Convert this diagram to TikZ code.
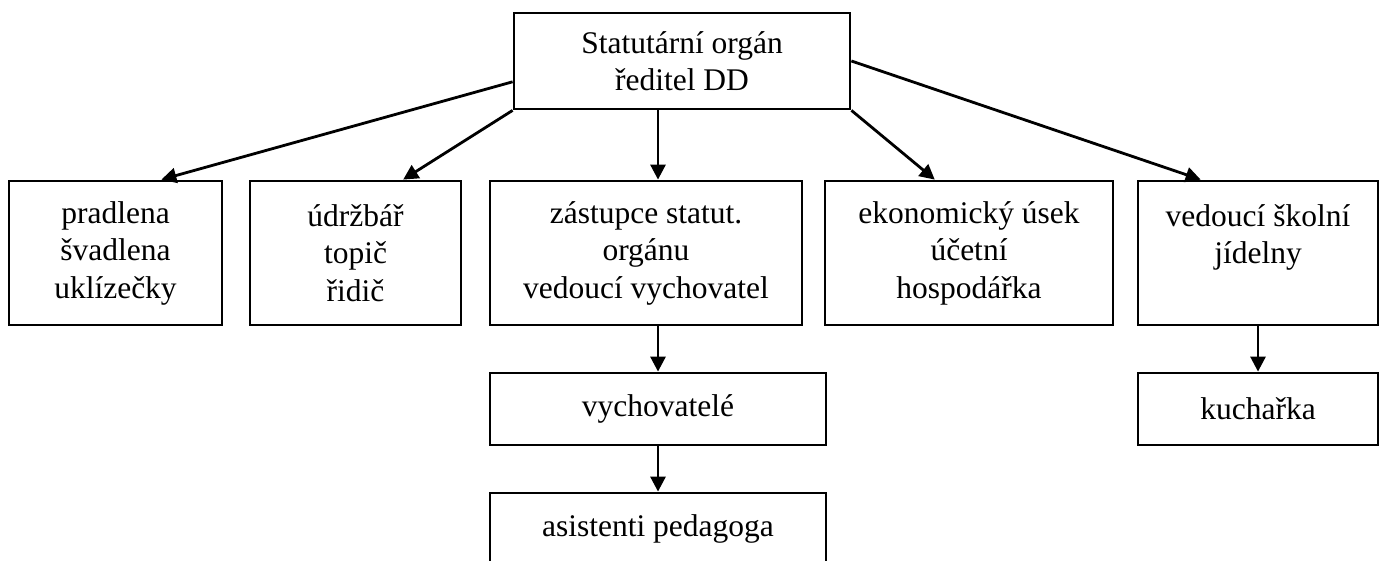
\documentclass[tikz,border=0pt]{standalone}
\usepackage{fontspec}
\setmainfont{Liberation Serif}
\usepackage{tikz}
\usetikzlibrary{arrows.meta,positioning,calc}

\begin{document}
\begin{tikzpicture}[x=1pt, y=-1pt,
    box/.style={draw, line width=2.8pt, align=center, inner sep=0pt,
        font=\fontsize{31.5}{37.5}\selectfont},
    arr/.style={line width=2.8pt, -{Triangle[length=15pt,width=15pt]}}]
    \useasboundingbox (0,0) rectangle (1379,561);

    % Top
    \node [box, minimum width=336, minimum height=96] (top) at (682,61)
        {Statutární orgán\\ředitel DD};

    % Second row
    \node [box, minimum width=213, minimum height=144] (pradl) at (115.5,253)
        {pradlena\\švadlena\\uklízečky};
    \node [box, minimum width=211, minimum height=144] (udrz) at (355.5,253)
        {údržbář\\topič\\řidič};
    \node [box, minimum width=312, minimum height=144] (zast) at (646,253)
        {zástupce statut.\\orgánu\\vedoucí vychovatel};
    \node [box, minimum width=288, minimum height=144] (ekon) at (969,253)
        {ekonomický úsek\\účetní\\hospodářka};
    \node [box, minimum width=240, minimum height=144] (ved) at (1258,253)
        {vedoucí školní\\jídelny\\\mbox{}};

    % Lower boxes
    \node [box, minimum width=336, minimum height=72] (vych) at (658,409)
        {vychovatelé};
    \node [box, minimum width=336, minimum height=72] (asist) at (658,529)
        {asistenti pedagoga};
    \node [box, minimum width=240, minimum height=72] (kuch) at (1258,409)
        {kuchařka};

    % Arrows
    \draw [arr] (top.187) -- (pradl.58);
    \draw [arr] (top.south west) -- (udrz.57);
    \draw [arr] (top.south -| vych.north) -- (zast.north -| vych.north);
    \draw [arr] (top.south east) -- (ekon.115);
    \draw [arr] (top.east) -- (ved.128);
    \draw [arr] (zast.south -| vych.north) -- (vych.north);
    \draw [arr] (vych.south) -- (asist.north);
    \draw [arr] (ved.south) -- (kuch.north);
\end{tikzpicture}
\end{document}
